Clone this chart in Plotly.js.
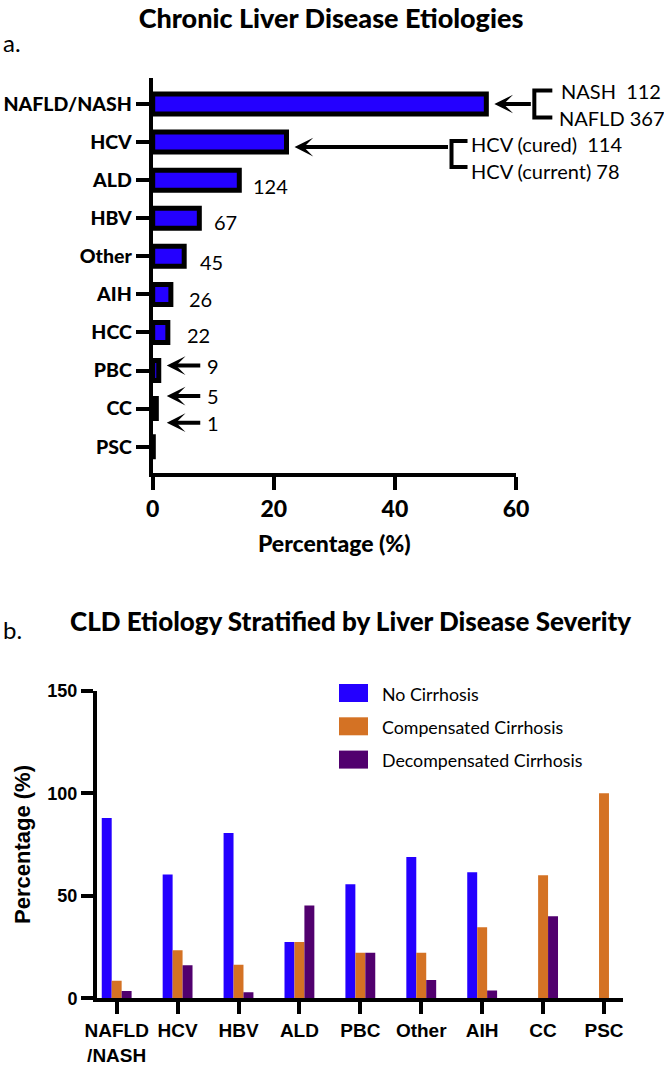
<!DOCTYPE html>
<html><head><meta charset="utf-8">
<script src="https://cdn.plot.ly/plotly-3.0.1.min.js"></script>
<style>html,body{margin:0;padding:0;background:#fff;} #chart{width:664px;height:1069px;}</style>
</head><body><div id="chart"></div>
<script>
// ---------- Panel a: Chronic Liver Disease Etiologies ----------
const etiologies = ['NAFLD/NASH','HCV','ALD','HBV','Other','AIH','HCC','PBC','CC','PSC'];
const etiologyPct = [55.1, 22.1, 14.3, 7.7, 5.2, 3.0, 2.5, 1.0, 0.6, 0.1];
const etiologyCounts = [479, 192, 124, 67, 45, 26, 22, 9, 5, 1];
const nafldSubgroups = ['NASH  112', 'NAFLD 367'];
const hcvSubgroups = ['HCV (cured)  114', 'HCV (current) 78'];
const pctTicks = [0, 20, 40, 60];

// ---------- Panel b: CLD Etiology Stratified by Liver Disease Severity ----------
const severityCats = ['NAFLD/NASH','HCV','HBV','ALD','PBC','Other','AIH','CC','PSC'];
const severityTickText = ['NAFLD<br>/NASH','HCV','HBV','ALD','PBC','Other','AIH','CC','PSC'];
const seriesNames = ['No Cirrhosis','Compensated Cirrhosis','Decompensated Cirrhosis'];
const noCirrhosis   = [87.9, 60.4, 80.6, 27.4, 55.6, 68.9, 61.5, 0, 0];
const compensated   = [8.6, 23.4, 16.4, 27.4, 22.2, 22.2, 34.6, 60, 100];
const decompensated = [3.5, 16.1, 3.0, 45.2, 22.2, 8.9, 3.8, 40, 0];
const severityTicks = [0, 50, 100, 150];

// ---------- styling ----------
const W = 664, H = 1069;
const BLUE = '#2400ff', ORANGE = '#d47224', PURPLE = '#51006e';
const seriesColors = [BLUE, ORANGE, PURPLE];
const CAL = 'Lato, "Open Sans", sans-serif';
const ARIAL = '"Liberation Sans", Arial, sans-serif';

const layout = {
  width: W, height: H, autosize: false,
  margin: {l: 0, r: 0, t: 0, b: 0},
  paper_bgcolor: '#fff', plot_bgcolor: '#fff',
  showlegend: false,
  barmode: 'group', bargap: 0.51, bargroupgap: 0,
  title: {text: 'Chronic Liver Disease Etiologies', x: 331/W, xanchor: 'center',
          y: 1 - 19/H, yanchor: 'middle', yref: 'container', xref: 'paper',
          font: {family: CAL, size: 27, weight: 900, color: '#000'}},
  xaxis: {domain: [152.7/W, 516/W], anchor: 'y', range: [0, 60], tickvals: pctTicks,
          showline: true, linewidth: 4, linecolor: '#000', ticks: 'outside', ticklen: 13,
          tickwidth: 4, tickcolor: '#000', showgrid: false, zeroline: false,
          tickfont: {family: CAL, size: 23, weight: 900, color: '#000'},
          title: {text: 'Percentage (%)', standoff: 16,
                  font: {family: CAL, size: 23, weight: 900, color: '#000'}}},
  yaxis: {domain: [1 - 472.7/H, 1 - 78/H], anchor: 'x', type: 'category',
          categoryorder: 'array', categoryarray: etiologies, range: [9.683, -0.683],
          showline: true, linewidth: 4, linecolor: '#000', ticks: 'outside', ticklen: 13,
          tickwidth: 4, tickcolor: '#000', showgrid: false, zeroline: false,
          tickfont: {family: CAL, size: 19.5, weight: 900, color: '#000'}},
  xaxis2: {domain: [97/W, 622.7/W], anchor: 'y2', type: 'category',
           categoryorder: 'array', categoryarray: severityCats,
           tickvals: severityCats, ticktext: severityTickText, range: [-0.323, 8.307],
           showline: true, linewidth: 4, linecolor: '#000', ticks: 'outside', ticklen: 12,
           tickwidth: 4, tickcolor: '#000', showgrid: false, zeroline: false,
           tickfont: {family: ARIAL, size: 19, weight: 'bold', color: '#000'}},
  yaxis2: {domain: [1 - 998.3/H, 1 - 690.7/H], anchor: 'x2', range: [0, 150], tickvals: severityTicks,
           showline: true, linewidth: 4, linecolor: '#000', ticks: 'outside', ticklen: 12,
           tickwidth: 4, tickcolor: '#000', showgrid: false, zeroline: false,
           tickfont: {family: ARIAL, size: 18, weight: 'bold', color: '#000'},
           title: {text: 'Percentage (%)', standoff: 12,
                   font: {family: ARIAL, size: 22, weight: 'bold', color: '#000'}}},
  annotations: [], shapes: []
};

// pixel helpers derived from the axis definitions
function xPix(v) { const d = layout.xaxis.domain, r = layout.xaxis.range;
  return W * (d[0] + (v - r[0]) / (r[1] - r[0]) * (d[1] - d[0])); }
function yPixCat(i) { const d = layout.yaxis.domain, r = layout.yaxis.range;
  const f = (i - r[0]) / (r[1] - r[0]); return H * (1 - (d[0] + f * (d[1] - d[0]))); }
const px = x => x / W, py = y => 1 - y / H;

const ann = layout.annotations, shp = layout.shapes;
const LBL = {family: CAL, size: 20, color: '#000'};

// panel letters + panel b title
ann.push({text: 'a.', xref: 'paper', yref: 'paper', x: px(1), y: py(43), xanchor: 'left', yanchor: 'middle', showarrow: false, font: {family: CAL, size: 24, color: '#000'}});
ann.push({text: 'b.', xref: 'paper', yref: 'paper', x: px(1), y: py(629), xanchor: 'left', yanchor: 'middle', showarrow: false, font: {family: CAL, size: 24, color: '#000'}});
ann.push({text: 'CLD Etiology Stratified by Liver Disease Severity', xref: 'paper', yref: 'paper', x: px(350), y: py(621), xanchor: 'center', yanchor: 'middle', showarrow: false, font: {family: CAL, size: 26, weight: 900, color: '#000'}});

// count labels next to bars (ALD..HCC)
const labelShift = {ALD: [12, -6], HBV: [13, -4], Other: [14, -6], AIH: [16, -5], HCC: [17, -3]};
for (let i = 2; i <= 6; i++) {
  const s = labelShift[etiologies[i]];
  ann.push({text: String(etiologyCounts[i]), x: etiologyPct[i], y: etiologies[i], xref: 'x', yref: 'y',
            xanchor: 'left', yanchor: 'middle', xshift: s[0], yshift: s[1], showarrow: false, font: LBL});
}

const ARW = {showarrow: true, arrowhead: 3, arrowsize: 0.78, arrowwidth: 4, arrowcolor: '#000', text: '', font: {size: 1}, xref: 'x', yref: 'y', ay: 0, ayref: 'pixel', axref: 'pixel'};

// NAFLD/NASH arrow + bracket
(function () {
  const v = etiologyPct[0], bx = xPix(v), by = yPixCat(0);
  const tail = 46;
  ann.push(Object.assign({}, ARW, {x: v, y: etiologies[0], ax: tail, standoff: 8}));
  const vx = bx + tail + 2, top = by - 13.5, bot = by + 13.5, end = vx + 18;
  shp.push({type: 'path', xref: 'paper', yref: 'paper', line: {color: '#000', width: 4},
            path: `M${px(end)},${py(top)} L${px(vx)},${py(top)} L${px(vx)},${py(bot)} L${px(end)},${py(bot)}`});
  ann.push({text: nafldSubgroups[0], xref: 'paper', yref: 'paper', x: px(end + 7), y: py(top), xanchor: 'left', yanchor: 'middle', showarrow: false, font: LBL});
  ann.push({text: nafldSubgroups[1], xref: 'paper', yref: 'paper', x: px(end + 5), y: py(bot), xanchor: 'left', yanchor: 'middle', showarrow: false, font: LBL});
})();

// HCV arrow + bracket
(function () {
  const v = etiologyPct[1], bx = xPix(v), ay0 = yPixCat(1) + 5;
  const tail = 163;
  ann.push(Object.assign({}, ARW, {x: v, y: etiologies[1], ax: tail, standoff: 8, yshift: -5}));
  const vx = bx + tail + 2, top = ay0 - 6, bot = ay0 + 20, end = vx + 16;
  shp.push({type: 'path', xref: 'paper', yref: 'paper', line: {color: '#000', width: 4},
            path: `M${px(end)},${py(top)} L${px(vx)},${py(top)} L${px(vx)},${py(bot)} L${px(end)},${py(bot)}`});
  ann.push({text: hcvSubgroups[0], xref: 'paper', yref: 'paper', x: px(end + 1), y: py(top + 3), xanchor: 'left', yanchor: 'middle', showarrow: false, font: LBL});
  ann.push({text: hcvSubgroups[1], xref: 'paper', yref: 'paper', x: px(end + 1), y: py(bot + 4), xanchor: 'left', yanchor: 'middle', showarrow: false, font: LBL});
})();

// small-category arrows (PBC, CC, PSC)
(function () {
  const tipX = xPix(etiologyPct[7]) + 8, len = 35;
  const items = [[7, 5], [8, 12.5], [9, 24]];
  items.forEach(([i, up]) => {
    const bx = xPix(etiologyPct[i]);
    ann.push(Object.assign({}, ARW, {x: etiologyPct[i], y: etiologies[i], ax: tipX + len - bx, standoff: tipX - bx, yshift: up}));
    ann.push({text: String(etiologyCounts[i]), xref: 'paper', yref: 'paper', x: px(tipX + len + 3),
              y: py(yPixCat(i) - up), xanchor: 'left', yanchor: 'middle', showarrow: false, font: LBL});
  });
})();

// custom legend for panel b
seriesNames.forEach((name, k) => {
  const top = 684 + k * 33.3;
  shp.push({type: 'rect', xref: 'paper', yref: 'paper', x0: px(339), x1: px(368), y0: py(top), y1: py(top + 18),
            fillcolor: seriesColors[k], line: {width: 0}});
  ann.push({text: name, xref: 'paper', yref: 'paper', x: px(380), y: py(top + 9.5), xanchor: 'left', yanchor: 'middle',
            showarrow: false, font: {family: CAL, size: 17.8, color: '#000'}});
});

const traces = [
  {type: 'bar', orientation: 'h', y: etiologies, x: etiologyPct, xaxis: 'x', yaxis: 'y', width: 0.525,
   marker: {color: BLUE, line: {color: '#000', width: 5}}, name: 'Percentage', hoverinfo: 'none'},
  {type: 'bar', x: severityCats, y: noCirrhosis, xaxis: 'x2', yaxis: 'y2', name: seriesNames[0], marker: {color: BLUE}},
  {type: 'bar', x: severityCats, y: compensated, xaxis: 'x2', yaxis: 'y2', name: seriesNames[1], marker: {color: ORANGE}},
  {type: 'bar', x: severityCats, y: decompensated, xaxis: 'x2', yaxis: 'y2', name: seriesNames[2], marker: {color: PURPLE}}
];

Plotly.newPlot('chart', traces, layout, {staticPlot: true, displayModeBar: false});
</script>
</body></html>
